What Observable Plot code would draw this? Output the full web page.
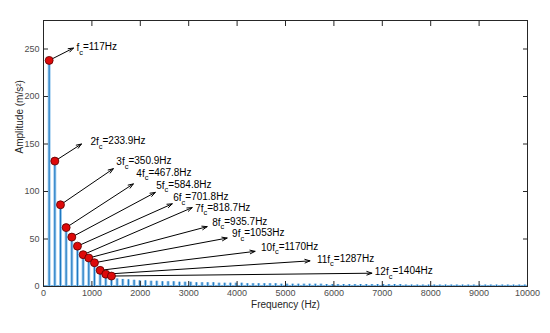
<!DOCTYPE html>
<html>
<head>
<meta charset="utf-8">
<script src="https://cdn.jsdelivr.net/npm/d3@7"></script>
<script src="https://cdn.jsdelivr.net/npm/@observablehq/plot@0.6"></script>
<style>
html,body{margin:0;padding:0;background:#fff;}
#chart{width:550px;height:333px;}
svg{font-family:"Liberation Sans",Arial,sans-serif;}
</style>
</head>
<body>
<div id="chart"></div>
<script>
// Annotated harmonics (Hz, m/s^2)
const harmonicFreq = [117, 233.9, 350.9, 467.8, 584.8, 701.8, 818.7, 935.7, 1053, 1170, 1287, 1404];
const harmonicAmp  = [238, 132, 86, 62, 52, 42.5, 33.5, 30, 25, 17, 13, 11];
const harmonicLabel = ["fc=117Hz","2fc=233.9Hz","3fc=350.9Hz","4fc=467.8Hz","5fc=584.8Hz","6fc=701.8Hz",
  "7fc=818.7Hz","8fc=935.7Hz","9fc=1053Hz","10fc=1170Hz","11fc=1287Hz","12fc=1404Hz"];
// arrow head ends and label anchors (data units)
const arrowFreq = [619, 784, 1443, 1856, 2309, 2660, 3072, 3381, 3794, 4371, 5505, 6784];
const arrowAmp  = [251, 150, 124, 108, 99, 87, 83, 63, 51, 37, 27, 14];
const labelFreq = [680, 969, 1505, 1918, 2330, 2680, 3134, 3485, 3897, 4495, 5649, 6845];
const labelAmp  = [251, 152, 131, 119, 106, 93, 82, 67, 55, 41, 28, 15];

// Higher harmonics (Hz, m/s^2)
const highFreq = [1521,1638,1755,1872,1989,2106,2223,2340,2457,2574,2691,2808,2925,3042,3159,3276,3393,3510,3627,3744,
  3861,3978,4095,4212,4329,4446,4563,4680,4797,4914,5031,5148,5265,5382,5499,5616,5733,5850,5967,6084,
  6201,6318,6435,6552,6669,6786,6903,7020,7137,7254,7371,7488,7605,7722,7839,7956,8073,8190,8307,8424,
  8541,8658,8775,8892,9009,9126,9243,9360,9477,9594,9711,9828,9945];
const highAmp = [8,7.5,7,6.5,6,6,5.5,5.5,5,5, 5,4.5,4.5,4.5,4,4,4,4,3.5,3.5,
  3.5,3.5,3.5,3,3,3,3,3,3,2.5, 2.5,2.5,2.5,2.5,2.5,2.5,2.5,2,2,2,
  2,2,2,2,2,2,2,2,2,2, 2,1.5,1.5,1.5,1.5,1.5,1.5,1.5,1.5,1.5,
  1.5,1.5,1.5,1.5,1.5,1.5,1.5,1.5,1.5,1.5, 1.5,1.5,1.5];

const xTicks = [0,1000,2000,3000,4000,5000,6000,7000,8000,9000,10000];
const yTicks = [0,50,100,150,200,250];

const main = harmonicFreq.map((f,i)=>({f, a: harmonicAmp[i], ax: arrowFreq[i], ay: arrowAmp[i], lx: labelFreq[i], ly: labelAmp[i], label: harmonicLabel[i]}));
const spectrum = main.map(d=>({f:d.f, a:d.a})).concat(highFreq.map((f,i)=>({f, a: highAmp[i]})));

const svg = Plot.plot({
  width: 550, height: 333,
  marginLeft: 43, marginRight: 23, marginTop: 20, marginBottom: 47,
  style: {fontFamily: '"Liberation Sans", Arial, sans-serif', fontSize: "9px", color: "#4d4d4d", background: "#fff"},
  x: {domain: [0, 10000]},
  y: {domain: [0, 280]},
  marks: [
    Plot.ruleY([0.4], {stroke: "#4a9ad6", strokeWidth: 1.5}),
    Plot.ruleX(spectrum, {x: "f", y1: 0, y2: "a", stroke: "#9ccbef", strokeWidth: 3}),
    Plot.ruleX(spectrum, {x: "f", y1: 0, y2: "a", stroke: "#1f78c0", strokeWidth: 1.1}),
    Plot.frame({stroke: "#262626", strokeWidth: 1}),
    Plot.axisX({ticks: xTicks, tickSize: -5, tickPadding: 8, tickFormat: d3.format("d"), label: null, stroke: "#262626", fill: "#4d4d4d"}),
    Plot.axisX({ticks: xTicks, anchor: "top", tickSize: -5, tickFormat: () => "", label: null, stroke: "#262626"}),
    Plot.axisY({ticks: yTicks, tickSize: -5, tickPadding: 9, label: null, stroke: "#262626", fill: "#4d4d4d"}),
    Plot.axisY({ticks: yTicks, anchor: "right", tickSize: -5, tickFormat: () => "", label: null, stroke: "#262626"}),
    Plot.arrow(main, {x1: "f", y1: "a", x2: "ax", y2: "ay", stroke: "#000", strokeWidth: 1, headLength: 8, headAngle: 40}),
    Plot.dot(main, {x: "f", y: "a", r: 4, fill: "#dd0a0a", stroke: "#5a0000", strokeWidth: 0.8}),
    Plot.text(main, {x: "lx", y: "ly", text: "label", textAnchor: "start", fontSize: 10, fill: "#000"}),
    Plot.text(["Frequency (Hz)"], {frameAnchor: "bottom", dy: 21, text: d => d, fontSize: 10, fill: "#262626"}),
    Plot.text(["Amplitude (m/s²)"], {frameAnchor: "left", dx: -24, rotate: -90, text: d => d, fontSize: 10, fill: "#262626"})
  ]
});

// render subscript "c" in harmonic labels
d3.select(svg).selectAll("text").each(function() {
  const t = d3.select(this);
  const s = t.text();
  const i = s.indexOf("fc=");
  if (i < 0) return;
  const pre = s.slice(0, i + 1), rest = s.slice(i + 2);
  t.selectAll("*").remove();
  t.text(null);
  t.append("tspan").text(pre);
  t.append("tspan").attr("dy", "0.45em").attr("font-size", "7.5px").text("c");
  t.append("tspan").attr("dy", "-0.45em").text(rest);
});

document.getElementById("chart").appendChild(svg);
</script>
</body>
</html>
